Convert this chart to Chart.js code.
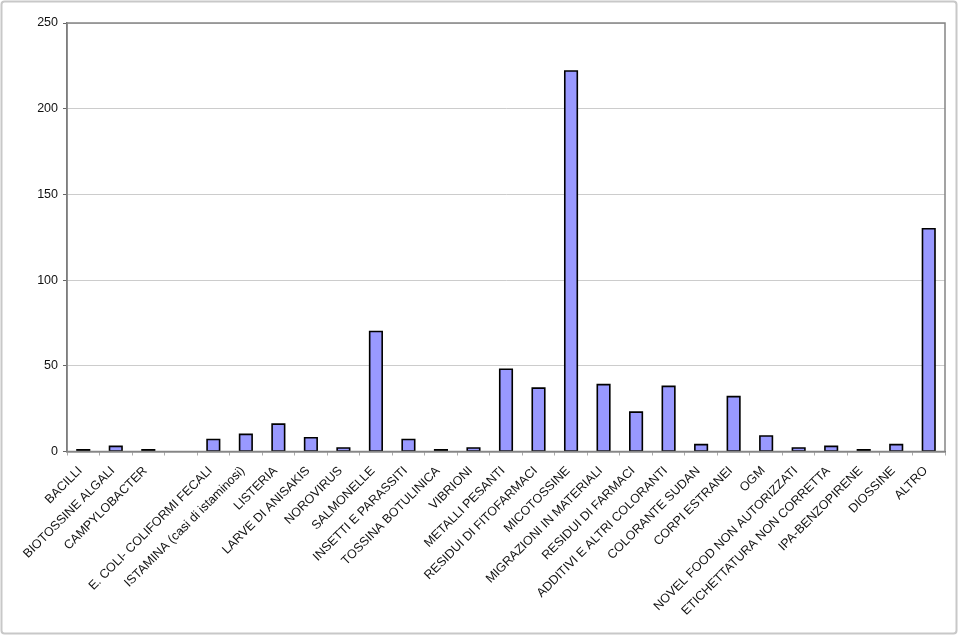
<!DOCTYPE html>
<html>
<head>
<meta charset="utf-8">
<script src="https://cdn.jsdelivr.net/npm/chart.js@4/dist/chart.umd.min.js"></script>
<style>
  html, body { margin: 0; padding: 0; background: #fff; }
  #wrap { width: 959px; height: 636px; position: relative; }
</style>
</head>
<body>
<div id="wrap"><canvas id="c" width="959" height="636"></canvas></div>
<script>
const categories = [
  "BACILLI", "BIOTOSSINE ALGALI", "CAMPYLOBACTER", "",
  "E. COLI- COLIFORMI FECALI", "ISTAMINA (casi di istaminosi)", "LISTERIA",
  "LARVE DI ANISAKIS", "NOROVIRUS", "SALMONELLE", "INSETTI E PARASSITI",
  "TOSSINA BOTULINICA", "VIBRIONI", "METALLI PESANTI", "RESIDUI DI FITOFARMACI",
  "MICOTOSSINE", "MIGRAZIONI IN MATERIALI", "RESIDUI DI FARMACI",
  "ADDITIVI E ALTRI COLORANTI", "COLORANTE SUDAN", "CORPI ESTRANEI", "OGM",
  "NOVEL FOOD NON AUTORIZZATI", "ETICHETTATURA NON CORRETTA", "IPA-BENZOPIRENE",
  "DIOSSINE", "ALTRO"
];
const values = [
  1, 3, 1, null,
  7, 10, 16,
  8, 2, 70, 7,
  1, 2, 48, 37,
  222, 39, 23,
  38, 4, 32, 9,
  2, 3, 1,
  4, 130
];
const yTicks = [0, 50, 100, 150, 200, 250];

const frame = {
  id: 'frame',
  beforeDraw(chart) {
    const ctx = chart.ctx;
    ctx.save();
    ctx.fillStyle = '#fff';
    ctx.fillRect(0, 0, chart.width, chart.height);
    ctx.strokeStyle = '#c8c8c8';
    ctx.lineWidth = 2;
    ctx.beginPath();
    if (ctx.roundRect) ctx.roundRect(1.5, 1.5, 955, 632, 3); else ctx.rect(1.5, 1.5, 955, 632);
    ctx.stroke();
    ctx.restore();
  },
  afterDatasetsDraw(chart) {
    const ctx = chart.ctx;
    ctx.save();
    // bar outlines, centred on the bar edges (Excel style)
    ctx.strokeStyle = '#000';
    ctx.lineWidth = 1.6;
    chart.getDatasetMeta(0).data.forEach((bar, i) => {
      if (values[i] == null) return;
      const p = bar.getProps(['x', 'y', 'base', 'width'], true);
      const l = p.x - p.width / 2, r = p.x + p.width / 2;
      ctx.beginPath();
      ctx.moveTo(l, p.base);
      ctx.lineTo(l, p.y);
      ctx.lineTo(r, p.y);
      ctx.lineTo(r, p.base);
      ctx.closePath();
      ctx.stroke();
    });
    const a = chart.chartArea;
    ctx.strokeStyle = '#858585';
    ctx.lineWidth = 1.5;
    ctx.strokeRect(a.left, a.top, a.right - a.left, a.bottom - a.top);
    ctx.restore();
  }
};

new Chart(document.getElementById('c'), {
  type: 'bar',
  data: {
    labels: categories,
    datasets: [{
      data: values,
      backgroundColor: '#9999ff',
      borderWidth: 0,
      inflateAmount: 0,
      categoryPercentage: 1,
      barPercentage: 0.385
    }]
  },
  options: {
    responsive: false,
    animation: false,
    devicePixelRatio: 1,
    layout: { padding: { left: 0, right: 14, top: 23, bottom: 0 } },
    plugins: { legend: { display: false }, tooltip: { enabled: false } },
    scales: {
      x: {
        grid: { offset: true, drawOnChartArea: false, drawTicks: true, tickLength: 4, tickColor: '#aaa', color: '#aaa' },
        border: { display: true, color: '#666', width: 1.5 },
        ticks: {
          autoSkip: false, maxRotation: 45, minRotation: 45,
          color: '#111', font: { family: 'Liberation Sans, Arial, sans-serif', size: 12.5 },
          padding: 8, labelOffset: -3
        },
        afterFit(s) { s.height = 184.5; }
      },
      y: {
        min: 0, max: 250,
        afterBuildTicks(s) { s.ticks = yTicks.map(v => ({ value: v })); },
        grid: { color: '#cccccc', lineWidth: 1, drawTicks: true, tickLength: 4, tickColor: '#666' },
        border: { display: true, color: '#666', width: 1.5 },
        ticks: {
          color: '#111', font: { family: 'Liberation Sans, Arial, sans-serif', size: 12.5 },
          padding: 5
        },
        afterFit(s) { s.width = 67; }
      }
    }
  },
  plugins: [frame]
});
</script>
</body>
</html>
